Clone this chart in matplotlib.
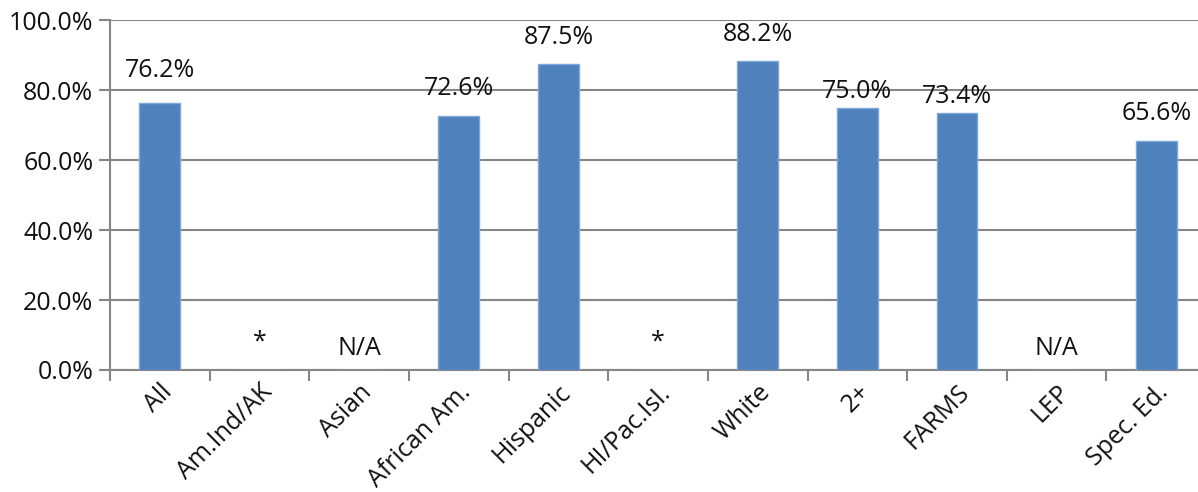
import matplotlib.pyplot as plt
import numpy as np

# Categories and values (None = no bar, shown with a note instead)
categories = ['All', 'Am.Ind/AK', 'Asian', 'African Am.', 'Hispanic', 'HI/Pac.Isl.',
              'White', '2+', 'FARMS', 'LEP', 'Spec. Ed.']
values = [76.2, None, None, 72.6, 87.5, None, 88.2, 75.0, 73.4, None, 65.6]
notes = ['', '*', 'N/A', '', '', '*', '', '', '', 'N/A', '']

# how far above the bar each value label sits (percentage points)
label_pad = [9.5, 0, 0, 8.0, 7.6, 0, 7.8, 4.7, 4.9, 0, 7.8]

plt.rcParams['font.family'] = ['Open Sans', 'DejaVu Sans']
fs = 18
txt_color = '#111111'

fig = plt.figure(figsize=(11.98, 4.92), dpi=100)
ax = fig.add_axes([0.0918, 0.248, 0.915, 0.711])

grid_color = '#868686'
x = np.arange(len(categories))
heights = [v if v is not None else 0 for v in values]
ax.bar(x, heights, width=0.41, color='#4F81BD', edgecolor='#7EA6DA', linewidth=1.0, zorder=3)

for i, v in enumerate(values):
    if v is not None:
        ax.text(i, v + label_pad[i], f'{v:.1f}%', ha='center', va='center', fontsize=fs, color=txt_color)
    else:
        y = 8.0 if notes[i] == '*' else 6.0
        ax.text(i, y, notes[i], ha='center', va='center', fontsize=fs, color=txt_color)

ax.set_xlim(-0.5, len(categories) - 0.5)
ax.set_ylim(0, 100)
ax.set_yticks(np.arange(0, 101, 20))
ax.set_yticklabels([f'{t:.1f}%' for t in np.arange(0, 101, 20)], fontsize=fs, color=txt_color)
ax.yaxis.grid(True, color=grid_color, linewidth=1.5, zorder=0)

# category boundary ticks on the x axis, labels centred under bars
ax.set_xticks(np.arange(-0.5, len(categories), 1.0))
ax.set_xticklabels([])
ax.set_xticks(x, minor=True)
ax.set_xticklabels(categories, minor=True, rotation=45, ha='right', rotation_mode='anchor',
                   fontsize=fs, color=txt_color)
ax.tick_params(axis='x', which='major', length=8, width=1.5, color=grid_color)
ax.tick_params(axis='x', which='minor', length=0, pad=7)
ax.tick_params(axis='y', length=8, width=1.5, color=grid_color, pad=4)

for s in ['top', 'right']:
    ax.spines[s].set_visible(False)
for s in ['left', 'bottom']:
    ax.spines[s].set_color(grid_color)
    ax.spines[s].set_linewidth(1.5)

fig.savefig('out.png', dpi=100)
